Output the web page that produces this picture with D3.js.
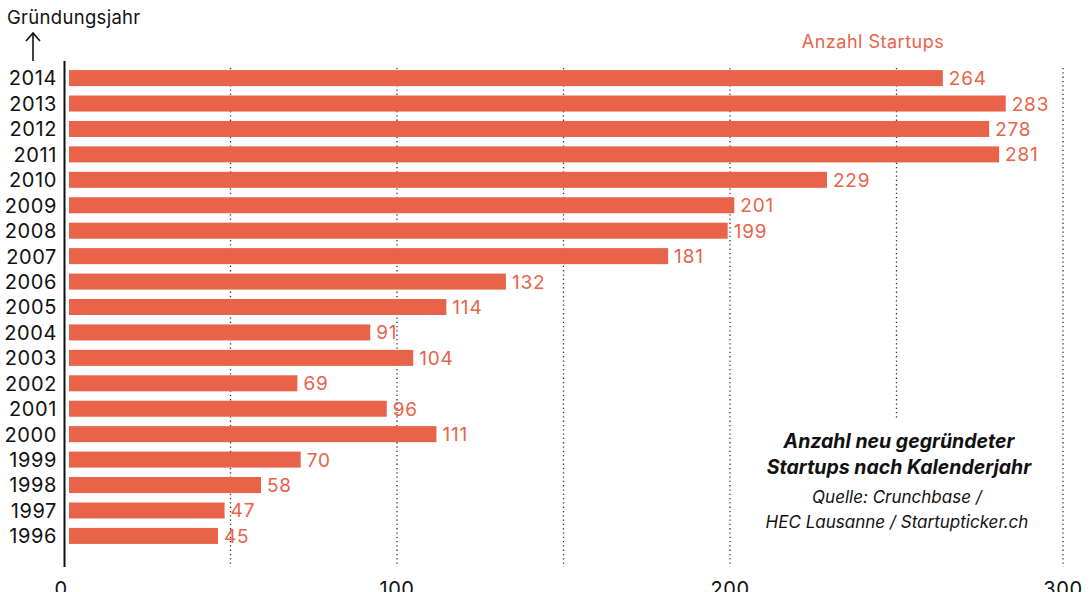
<!DOCTYPE html>
<html>
<head>
<meta charset="utf-8">
<script src="https://cdn.jsdelivr.net/npm/d3@7"></script>
<style>
  html, body { margin: 0; padding: 0; background: #fff; }
  svg { display: block; font-family: Inter, "Noto Sans", sans-serif; }
</style>
</head>
<body>
<svg id="chart" width="1091" height="592"></svg>
<script>
// Founding years (top to bottom) and number of startups founded per year
const years = ["2014","2013","2012","2011","2010","2009","2008","2007","2006","2005",
               "2004","2003","2002","2001","2000","1999","1998","1997","1996"];
const startups = [264, 283, 278, 281, 229, 201, 199, 181, 132, 114,
                  91, 104, 69, 96, 111, 70, 58, 47, 45];
const gridValues = [50, 100, 150, 200, 250, 300];
const axisTicks = [0, 100, 200, 300];

const orange = "#E8634A";
const svg = d3.select("#chart");

// Horizontal value scale for axis and grid; bars start a few pixels right of the axis line
const x = d3.scaleLinear().domain([0, 300]).range([64, 1063]);
const xBar = d3.scaleLinear().domain([0, 300]).range([69, 1062]);
const y = d3.scaleBand().domain(years).range([65, 549]).paddingInner(0.37).paddingOuter(0.2);

// Dotted vertical grid
svg.append("g").selectAll("line").data(gridValues).join("line")
  .attr("x1", d => x(d)).attr("x2", d => x(d))
  .attr("y1", 68).attr("y2", 567)
  .attr("stroke", "#333").attr("stroke-width", 1.3)
  .attr("stroke-dasharray", "1.3,3");

// Bars
svg.append("g").selectAll("rect").data(years).join("rect")
  .attr("x", xBar(0))
  .attr("y", d => y(d))
  .attr("width", (d, i) => xBar(startups[i]) - xBar(0))
  .attr("height", y.bandwidth())
  .attr("fill", orange);

// Value labels
svg.append("g").selectAll("text").data(years).join("text")
  .attr("x", (d, i) => xBar(startups[i]) + 6)
  .attr("y", d => y(d) + y.bandwidth() / 2)
  .attr("dy", "0.37em")
  .attr("fill", orange)
  .attr("font-size", 19)
  .attr("letter-spacing", 0.8)
  .text((d, i) => startups[i]);

// Year labels
svg.append("g").selectAll("text").data(years).join("text")
  .attr("x", 57)
  .attr("y", d => y(d) + y.bandwidth() / 2)
  .attr("dy", "0.37em")
  .attr("text-anchor", "end")
  .attr("fill", "#111")
  .attr("font-size", 20)
  .attr("letter-spacing", 0.6)
  .text(d => d);

// Vertical axis line
svg.append("line")
  .attr("x1", 64.5).attr("x2", 64.5).attr("y1", 61).attr("y2", 567)
  .attr("stroke", "#111").attr("stroke-width", 2);

// Bottom tick labels
svg.append("g").selectAll("text").data(axisTicks).join("text")
  .attr("x", d => x(d) - (d === 0 ? 3 : 0))
  .attr("y", 596)
  .attr("text-anchor", "middle")
  .attr("fill", "#111")
  .attr("font-size", 20)
  .attr("letter-spacing", 0.6)
  .text(d => d);

// Axis title with upward arrow
svg.append("text")
  .attr("x", 7).attr("y", 24)
  .attr("fill", "#111").attr("font-size", 18.5)
  .attr("letter-spacing", 0.3)
  .text("Gründungsjahr");
svg.append("line")
  .attr("x1", 33).attr("x2", 33).attr("y1", 34).attr("y2", 61)
  .attr("stroke", "#111").attr("stroke-width", 1.6);
svg.append("path")
  .attr("d", "M26,41 L33,33 L40,41")
  .attr("fill", "none").attr("stroke", "#111").attr("stroke-width", 1.6);

// Series label
svg.append("text")
  .attr("x", 873).attr("y", 48)
  .attr("text-anchor", "middle")
  .attr("fill", orange).attr("font-size", 18)
  .attr("letter-spacing", 0.5)
  .text("Anzahl Startups");

// Caption panel
svg.append("rect")
  .attr("x", 742).attr("y", 418).attr("width", 310).attr("height", 160)
  .attr("fill", "#fff");
const cap = svg.append("g").attr("text-anchor", "middle").attr("fill", "#111");
cap.append("text").attr("x", 899).attr("y", 448)
  .attr("font-size", 19.5).attr("font-weight", 700).attr("font-style", "italic")
  .text("Anzahl neu gegründeter");
cap.append("text").attr("x", 899).attr("y", 474)
  .attr("font-size", 19.5).attr("font-weight", 700).attr("font-style", "italic")
  .text("Startups nach Kalenderjahr");
cap.append("text").attr("x", 897).attr("y", 503)
  .attr("font-size", 17).attr("font-style", "italic")
  .text("Quelle: Crunchbase /");
cap.append("text").attr("x", 897).attr("y", 528)
  .attr("font-size", 17).attr("font-style", "italic")
  .text("HEC Lausanne / Startupticker.ch");
</script>
</body>
</html>
